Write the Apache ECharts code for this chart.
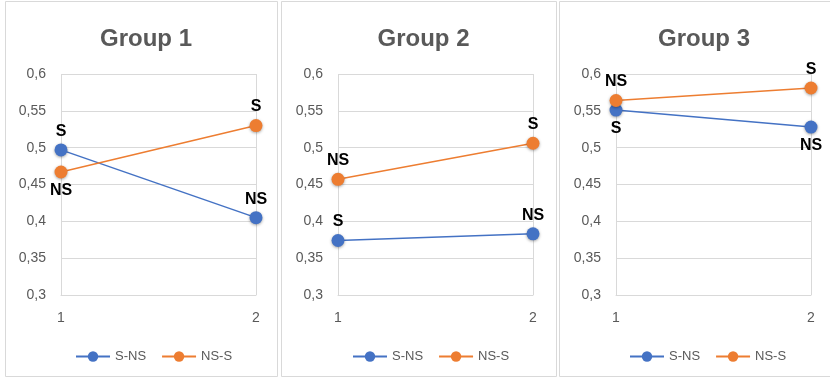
<!DOCTYPE html>
<html>
<head>
<meta charset="utf-8">
<script src="https://cdn.jsdelivr.net/npm/echarts@6/dist/echarts.min.js"></script>
<style>
  html, body { margin: 0; padding: 0; background: #fff; }
  #main { width: 830px; height: 378px; }
</style>
</head>
<body>
<div id="main"></div>
<script>
const categories = ['1', '2'];
const groups = ['Group 1', 'Group 2', 'Group 3'];
const seriesNames = ['S-NS', 'NS-S'];
const sNs = [[0.497, 0.405], [0.374, 0.383], [0.551, 0.528]];
const nsS = [[0.467, 0.530], [0.457, 0.506], [0.564, 0.581]];
const sNsTags = [['S', 'NS'], ['S', 'NS'], ['S', 'NS']];
const nsSTags = [['NS', 'S'], ['NS', 'S'], ['NS', 'S']];

// where the S / NS tags sit (top or bottom of the marker)
const sNsPos = [['top', 'top'], ['top', 'top'], ['bottom', 'bottom']];
const nsSPos = [['bottom', 'top'], ['top', 'top'], ['top', 'top']];

const colors = ['#4472C4', '#ED7D31'];
const panels = [
  { x: 5, w: 272, plot: 61, legend: 70 },
  { x: 281, w: 275, plot: 338, legend: 347 },
  { x: 559, w: 280, plot: 616, legend: 624 }
];
const font = '"Liberation Sans", Arial, sans-serif';

const chart = echarts.init(document.getElementById('main'), null, { renderer: 'canvas' });

const grid = [], xAxis = [], yAxis = [], title = [], legend = [], series = [], graphic = [];

panels.forEach(function (p, i) {
  graphic.push({
    type: 'rect',
    shape: { x: p.x + 0.5, y: 1.5, width: p.w, height: 375 },
    style: { fill: 'none', stroke: '#d9d9d9', lineWidth: 1 },
    silent: true
  });
  grid.push({ left: p.plot, top: 74, width: 195, height: 221 });
  title.push({
    text: groups[i],
    left: p.x + p.w / 2,
    top: 22,
    textAlign: 'center',
    textStyle: { fontFamily: font, fontSize: 24, fontWeight: 'bold', color: '#595959' }
  });
  legend.push({
    left: p.legend,
    top: 345,
    itemWidth: 34,
    itemHeight: 13,
    itemGap: 15,
    data: seriesNames,
    lineStyle: { width: 2 },
    textStyle: { fontFamily: font, fontSize: 13, color: '#595959' }
  });
  xAxis.push({
    type: 'category',
    gridIndex: i,
    data: categories,
    boundaryGap: false,
    axisTick: { show: false },
    axisLine: { lineStyle: { color: '#d9d9d9' } },
    splitLine: { show: true, showMinLine: true, showMaxLine: true, lineStyle: { color: '#d9d9d9' } },
    axisLabel: { fontFamily: font, fontSize: 14, color: '#595959', margin: 16 }
  });
  yAxis.push({
    type: 'value',
    gridIndex: i,
    min: 0.3,
    max: 0.6,
    interval: 0.05,
    axisLine: { show: false },
    axisTick: { show: false },
    splitLine: { lineStyle: { color: '#d9d9d9' } },
    axisLabel: {
      fontFamily: font, fontSize: 14, color: '#595959', margin: 15,
      formatter: function (v) { return String(+v.toFixed(2)).replace('.', ','); }
    }
  });

  [[sNs, sNsTags, sNsPos], [nsS, nsSTags, nsSPos]].forEach(function (d, k) {
    series.push({
      name: seriesNames[k],
      type: 'line',
      xAxisIndex: i,
      yAxisIndex: i,
      symbol: 'circle',
      symbolSize: 13,
      color: colors[k],
      lineStyle: { width: 1.5, color: colors[k] },
      itemStyle: {
        color: colors[k],
        shadowBlur: 3,
        shadowColor: 'rgba(0,0,0,0.35)',
        shadowOffsetY: 1
      },
      label: {
        show: true,
        fontFamily: font,
        fontSize: 16,
        fontWeight: 'bold',
        color: '#000',
        distance: 4
      },
      data: d[0][i].map(function (v, j) {
        return {
          value: v,
          label: { position: d[2][i][j], formatter: d[1][i][j] }
        };
      })
    });
  });
});

chart.setOption({
  backgroundColor: '#fff',
  animation: false,
  title: title,
  legend: legend,
  grid: grid,
  xAxis: xAxis,
  yAxis: yAxis,
  series: series,
  graphic: graphic
});
</script>
</body>
</html>
